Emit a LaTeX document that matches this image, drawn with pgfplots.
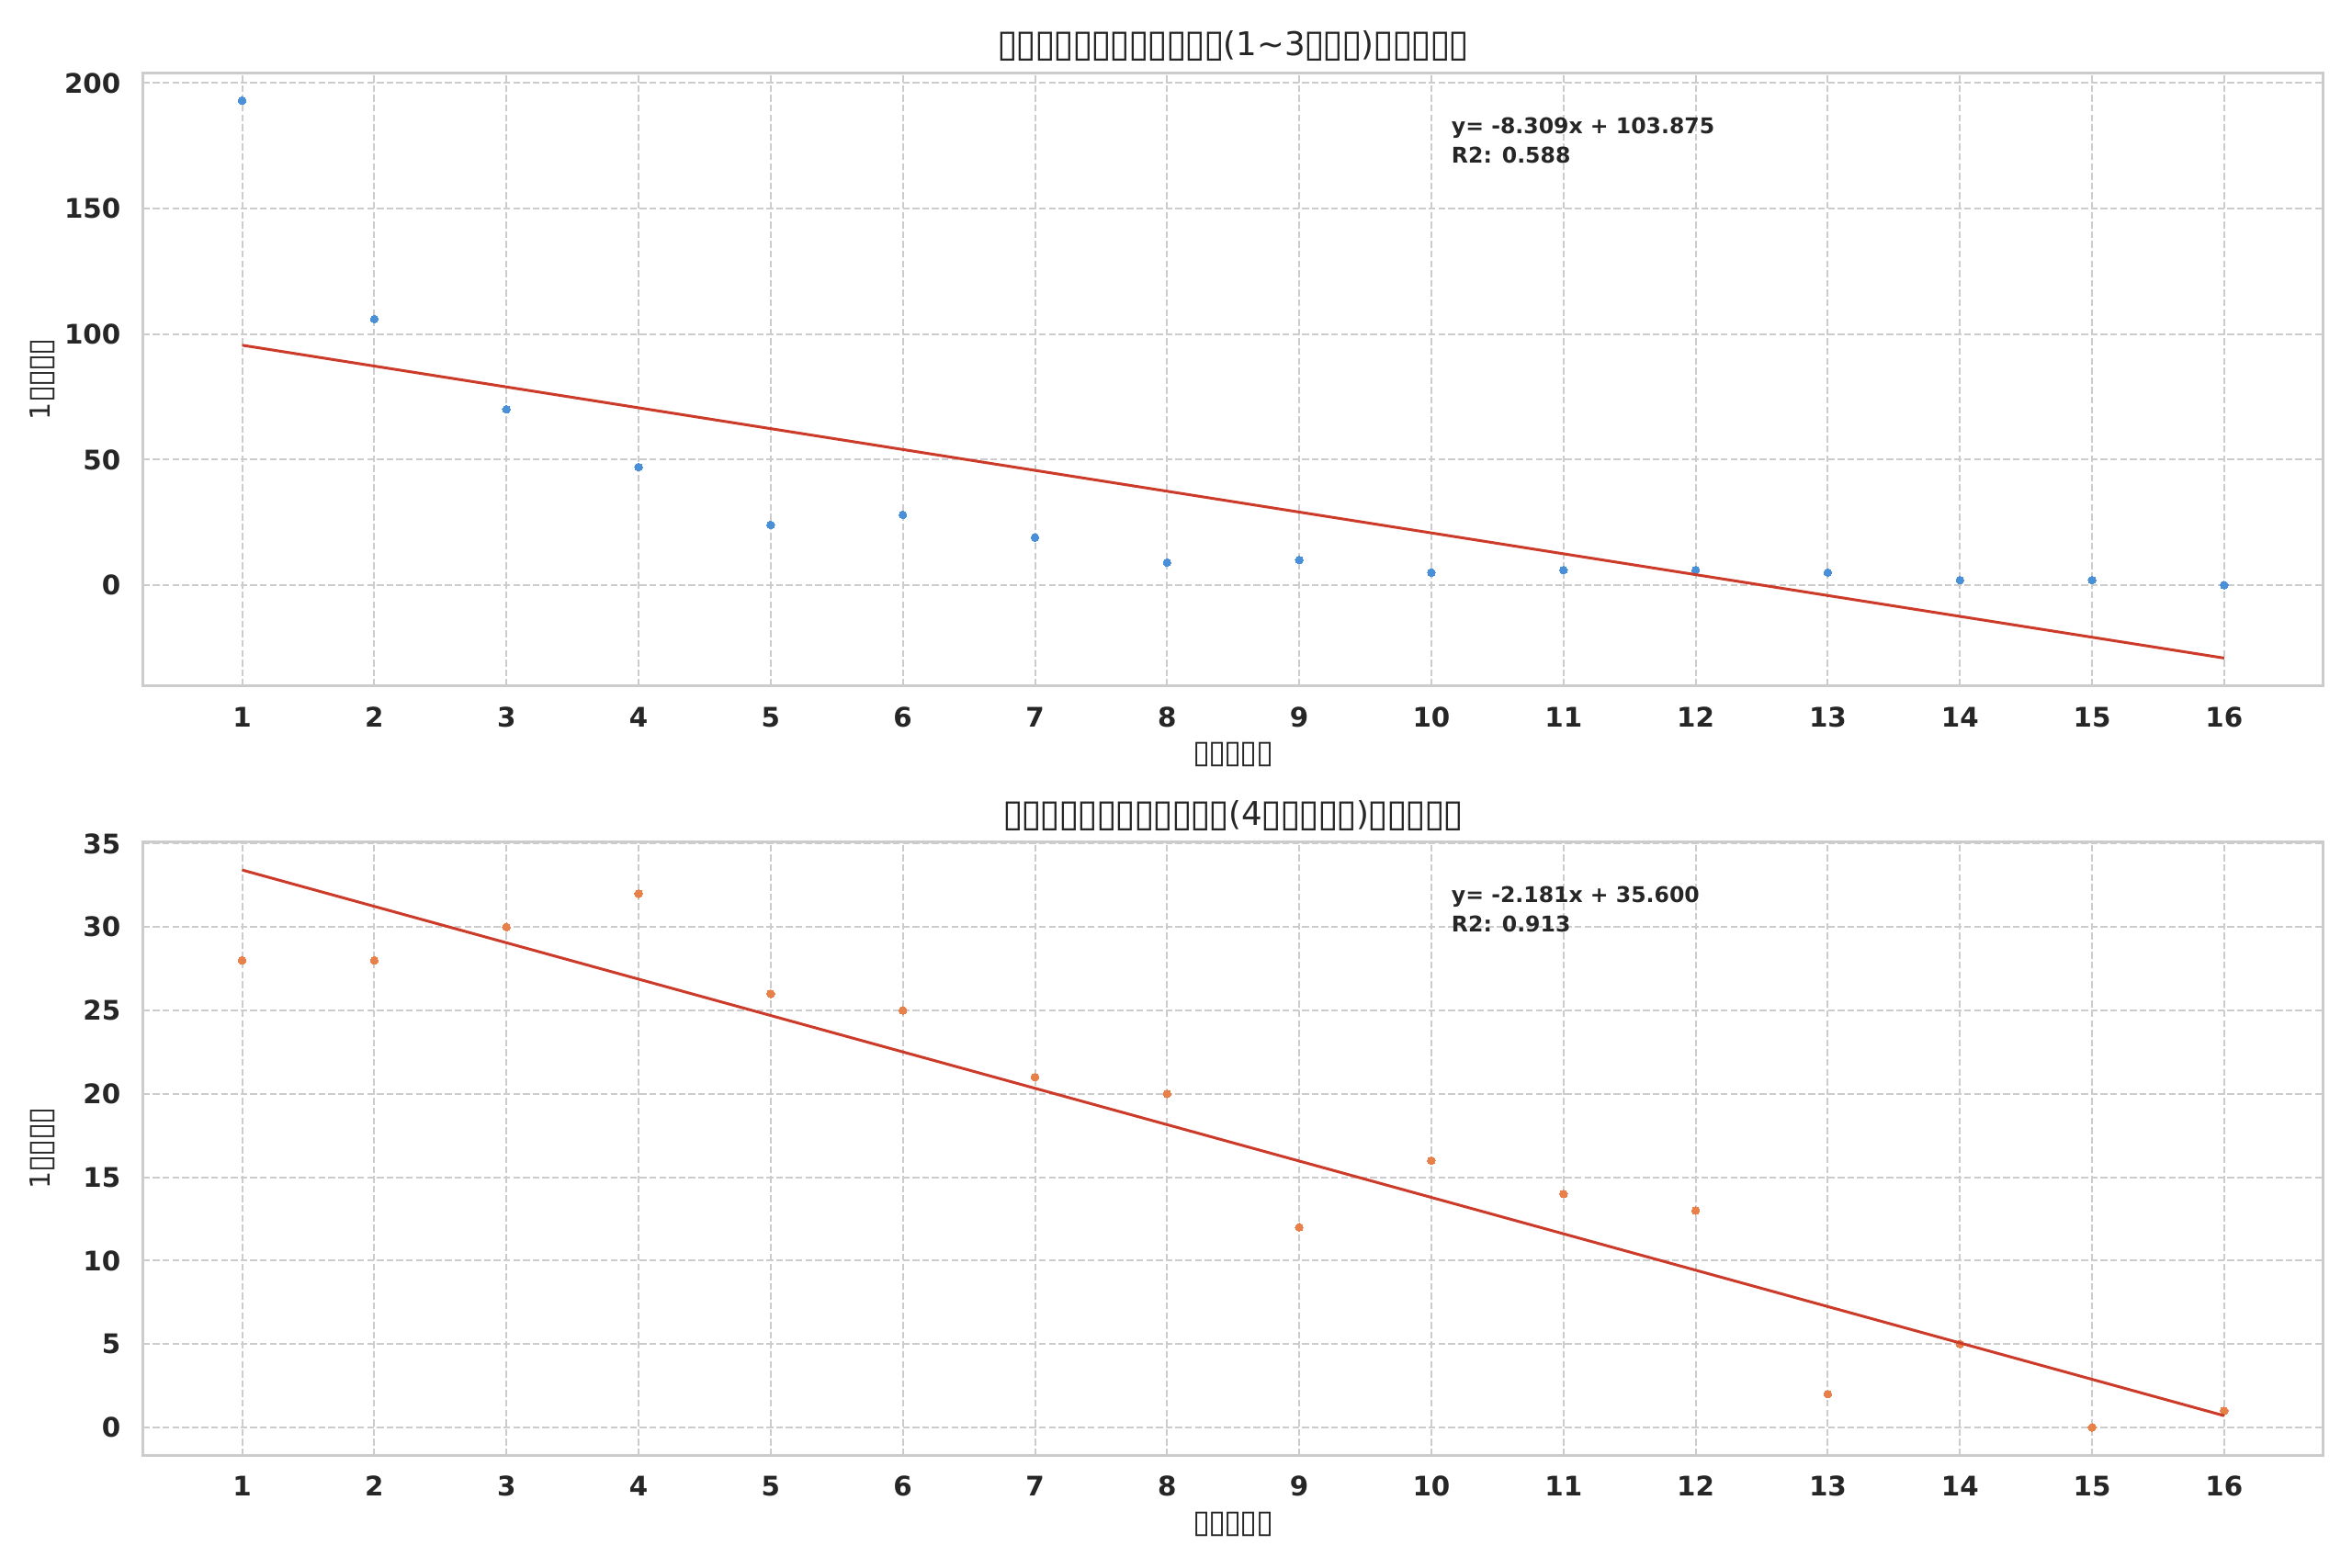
\documentclass[border=0pt]{standalone}
\usepackage{fontspec}
\setmainfont{DejaVu Sans}
\usepackage{graphicx}
\usepackage{pgfplots}
\pgfplotsset{compat=1.18}
\definecolor{ptblue}{HTML}{4A90D9}
\definecolor{ptorange}{HTML}{E8804A}
\definecolor{fitred}{HTML}{CC3A2A}
\definecolor{gridgray}{HTML}{CCCCCC}
\definecolor{txt}{HTML}{262626}
\newsavebox\tbox
\newcommand\T{\sbox\tbox{\resizebox*{!}{0.885em}{▯}}\makebox[0.575em]{\raisebox{\dimexpr\dp\tbox-0.177em\relax}{\usebox\tbox}}}
\tikzset{annot/.style={anchor=base west, inner sep=0pt, text=txt, font=\fontsize{10.6bp}{13bp}\selectfont\bfseries}}
\pgfplotsset{
  myax/.style={
    scale only axis, width=1067.85bp, height=300.4bp,
    anchor=south west,
    xmin=0.25, xmax=16.75, xtick={1,...,16},
    axis line style={gridgray, line width=1.25bp},
    grid=major,
    major grid style={gridgray, line width=0.9bp, dash pattern=on 3.33bp off 1.44bp},
    major tick length=0pt,
    /pgf/number format/assume math mode=true,
    tick label style={font=\fontsize{13.2bp}{15bp}\selectfont\bfseries, text=txt, inner sep=0pt},
    xticklabel style={anchor=north, yshift=-10.1bp},
    yticklabel style={anchor=east, xshift=-10.8bp},
    title style={font=\fontsize{16bp}{19bp}\selectfont, text=txt, at={(axis description cs:0.5,1.028)}, anchor=base, inner sep=0pt, yshift=-6pt},
    xlabel style={font=\fontsize{13.5bp}{16bp}\selectfont, text=txt, at={(axis description cs:0.5,-0.124)}, anchor=base, inner sep=0pt},
    ylabel style={font=\fontsize{13.5bp}{16bp}\selectfont, text=txt, at={(axis description cs:-0.0425,0.5)}, anchor=base, inner sep=0pt},
    clip mode=individual,
  },
}
\begin{document}
\begin{tikzpicture}
\path[use as bounding box] (0,0) rectangle (1152bp,768.15bp);
\begin{axis}[myax, at={(70.07bp,432.1bp)},
  ymin=-40.17, ymax=204.1, ytick={0,50,100,150,200},
  title={\T\T\T\T\T\T\T\T\T\T\T\T(1\textasciitilde3\T\T\T)\T\T\T\T\T},
  xlabel={\T\T\T\T\T}, ylabel={1\T\T\T\T}]
\addplot[only marks, mark=*, mark size=1.9bp, color=ptblue, mark options={line width=0pt}] coordinates {
(1,193) (2,106) (3,70) (4,47) (5,24) (6,28) (7,19) (8,9) (9,10) (10,5) (11,6) (12,6) (13,5) (14,2) (15,2) (16,0)};
\addplot[fitred, line width=1.35bp] coordinates {(1,95.566) (16,-29.069)};
\node[annot] at (rel axis cs:0.6,0.901) {y= -8.309x + 103.875};
\node[annot] at (rel axis cs:0.6,0.853) {R2: 0.588};
\end{axis}
\begin{axis}[myax, at={(70.07bp,55.2bp)},
  ymin=-1.671, ymax=35.09, ytick={0,5,...,35},
  title={\T\T\T\T\T\T\T\T\T\T\T\T(4\T\T\T\T\T)\T\T\T\T\T},
  xlabel={\T\T\T\T\T}, ylabel={1\T\T\T\T}]
\addplot[only marks, mark=*, mark size=1.9bp, color=ptorange, mark options={line width=0pt}] coordinates {
(1,28) (2,28) (3,30) (4,32) (5,26) (6,25) (7,21) (8,20) (9,12) (10,16) (11,14) (12,13) (13,2) (14,5) (15,0) (16,1)};
\addplot[fitred, line width=1.35bp] coordinates {(1,33.419) (16,0.704)};
\node[annot] at (rel axis cs:0.6,0.901) {y= -2.181x + 35.600};
\node[annot] at (rel axis cs:0.6,0.853) {R2: 0.913};
\end{axis}
\end{tikzpicture}
\end{document}
